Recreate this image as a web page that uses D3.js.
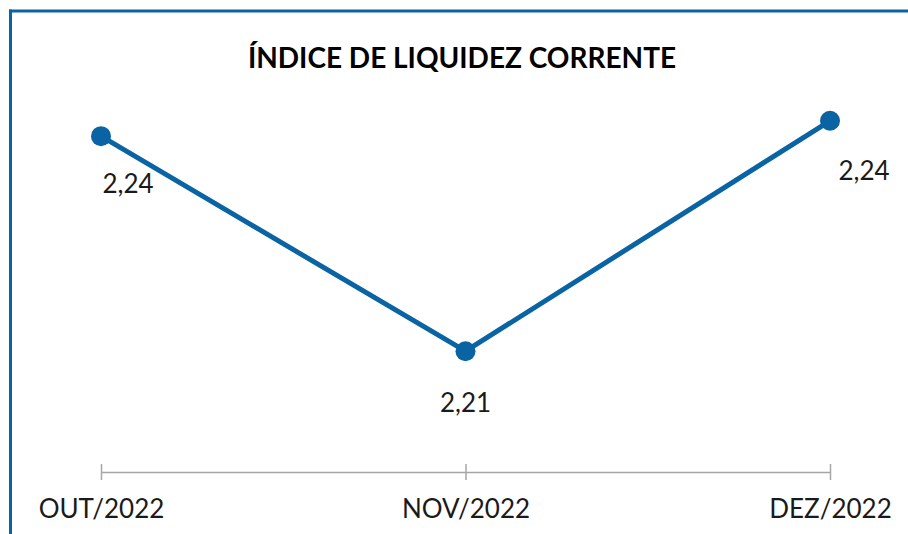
<!DOCTYPE html>
<html>
<head>
<meta charset="utf-8">
<script src="https://cdn.jsdelivr.net/npm/d3@7"></script>
<style>
  body { margin: 0; background: #fff; }
  svg { display: block; }
</style>
</head>
<body>
<svg id="chart" width="908" height="534"></svg>
<script>
var months = ["OUT/2022", "NOV/2022", "DEZ/2022"];
var values = [2.238, 2.21, 2.24];
var title = "ÍNDICE DE LIQUIDEZ CORRENTE";

// where each value label sits relative to its point (dx, dy of baseline)
var labelOffsets = [[27, 57], [0, 61], [34, 59]];

var line_color = '#0a64a4';
var axis_color = '#a6a6a6';

var svg = d3.select("#chart"),
    width = +svg.attr("width"),
    height = +svg.attr("height");

var data = months.map(function(m, i) { return {month: m, value: values[i]}; });

// frame: top and left blue rules
svg.append("line")
    .attr("x1", 9).attr("x2", width)
    .attr("y1", 11).attr("y2", 11)
    .attr("stroke", line_color).attr("stroke-width", 3);
svg.append("line")
    .attr("x1", 10.5).attr("x2", 10.5)
    .attr("y1", 9.5).attr("y2", height)
    .attr("stroke", line_color).attr("stroke-width", 3);

svg.append("text")
    .attr("x", 462).attr("y", 68)
    .attr("text-anchor", "middle")
    .style("font-family", "Lato, 'DejaVu Sans', sans-serif")
    .style("font-weight", "bold")
    .style("font-size", "28px")
    .attr("fill", "#000")
    .text(title);

var x = d3.scalePoint().domain(months).range([101, 830]);
var y = d3.scaleLinear().domain([2.2, 2.25]).range([428, 44]);

var axis = svg.append("g")
    .attr("transform", "translate(0,472)")
    .call(d3.axisBottom(x).tickSizeOuter(0).tickSizeInner(8).tickPadding(20));
axis.select(".domain").attr("stroke", axis_color).attr("stroke-width", 1.5);
axis.selectAll(".tick line")
    .attr("stroke", axis_color).attr("stroke-width", 1.5)
    .attr("y1", -8).attr("y2", 8);
axis.selectAll(".tick text")
    .attr("fill", "#1a1a1a")
    .style("font-family", "Lato, 'DejaVu Sans', sans-serif")
    .style("font-size", "26px")
    .attr("dy", "0.71em");

var lineFunction = d3.line()
    .x(function(d) { return x(d.month); })
    .y(function(d) { return y(d.value); });

svg.append("path")
    .attr("d", lineFunction(data))
    .attr("stroke", line_color)
    .attr("stroke-width", 5)
    .attr("stroke-linejoin", "round")
    .attr("fill", "none");

svg.selectAll("circle.pt").data(data).enter()
    .append("circle")
    .attr("class", "pt")
    .attr("cx", function(d) { return x(d.month); })
    .attr("cy", function(d) { return y(d.value); })
    .attr("r", 10)
    .attr("fill", line_color);

var fmt = function(v) { return d3.format(".2f")(v).replace(".", ","); };

svg.selectAll("text.val").data(data).enter()
    .append("text")
    .attr("class", "val")
    .attr("x", function(d, i) { return x(d.month) + labelOffsets[i][0]; })
    .attr("y", function(d, i) { return y(d.value) + labelOffsets[i][1]; })
    .attr("text-anchor", "middle")
    .style("font-family", "Lato, 'DejaVu Sans', sans-serif")
    .style("font-size", "26px")
    .attr("fill", "#1a1a1a")
    .text(function(d) { return fmt(d.value); });
</script>
</body>
</html>
